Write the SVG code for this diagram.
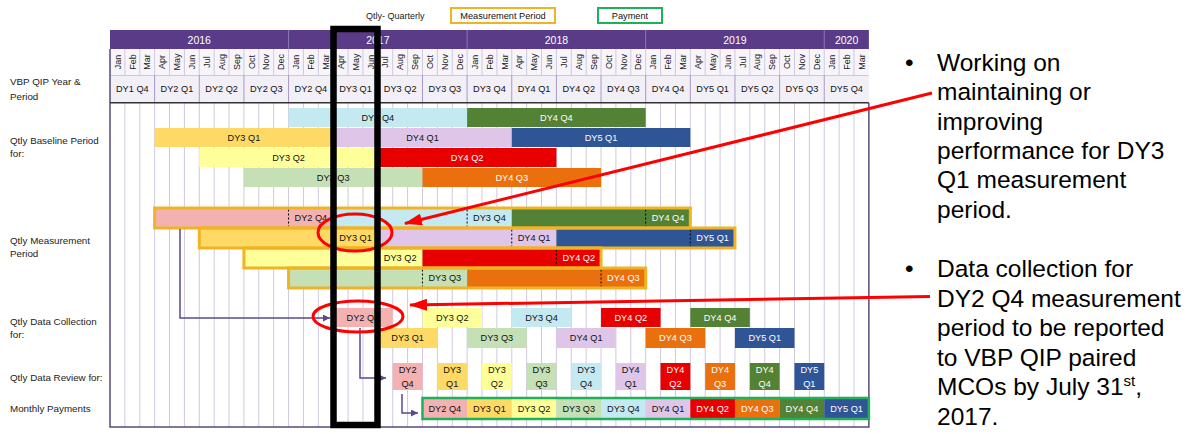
<svg xmlns="http://www.w3.org/2000/svg" width="1192" height="434" viewBox="0 0 1192 434">
<style>
text{font-family:"Liberation Sans",Arial,sans-serif}
.t{font-size:9.2px;fill:#111111;text-anchor:middle}
.w{fill:#ffffff}
.mo{font-size:9px;fill:#1a1a1a;text-anchor:middle}
.yr{font-size:10.5px;fill:#ffffff;text-anchor:middle}
.lbl{font-size:9.8px;fill:#222222}
.big{font-size:24.5px;fill:#000000}
.grid{stroke:#cfc8e0;stroke-width:1;fill:none}
.dash{stroke:#000;stroke-width:1;stroke-dasharray:2 2;fill:none}
.mp{fill:none;stroke:#efb324;stroke-width:3}
.pay{fill:none;stroke:#1fb15a;stroke-width:2.5}
.conn{fill:none;stroke:#5b4a8b;stroke-width:1.5}
.red{fill:none;stroke:#ff0000;stroke-width:3}
.c24{fill:#f4b1b2}.c31{fill:#ffd966}.c32{fill:#ffff99}.c33{fill:#c5e0b4}.c34{fill:#c5e9f1}
.c41{fill:#dfc6e9}.c42{fill:#e80000}.c43{fill:#e9700c}.c44{fill:#548235}.c51{fill:#2f5597}
</style>
<defs>
<marker id="pa" viewBox="0 0 7 7" refX="7" refY="3.5" markerWidth="7" markerHeight="7" markerUnits="userSpaceOnUse" orient="auto"><path d="M0,0L7,3.5L0,7z" fill="#5b4a8b"/></marker>
<marker id="ra" viewBox="0 0 18 12" refX="17" refY="6" markerWidth="18" markerHeight="12" markerUnits="userSpaceOnUse" orient="auto"><path d="M0,0L18,6L0,12z" fill="#ff0000"/></marker>
</defs>
<rect width="1192" height="434" fill="#ffffff"/>

<g id="legend">
<text x="366" y="19" class="lbl" style="font-size:9px">Qtly- Quarterly</text>
<rect x="451" y="8" width="104" height="15" fill="#fff" stroke="#efb324" stroke-width="2"/>
<text x="503" y="19" class="t">Measurement Period</text>
<rect x="598" y="8" width="64" height="15" fill="#fff" stroke="#1fb15a" stroke-width="2"/>
<text x="630" y="19" class="t">Payment</text>
</g>

<g id="header">
<rect x="110" y="30" width="758.88" height="19" fill="#5a3b88"/>
<path d="M288.56 30V49M467.12 30V49M645.68 30V49M824.24 30V49" stroke="#8c78b6" stroke-width="1"/>
<text x="199.28" y="43.5" class="yr">2016</text>
<text x="377.84" y="43.5" class="yr">2017</text>
<text x="556.4" y="43.5" class="yr">2018</text>
<text x="734.96" y="43.5" class="yr">2019</text>
<text x="846.56" y="43.5" class="yr">2020</text>
<rect x="110" y="49" width="758.88" height="26" fill="#f7f5fa"/>
<rect x="110" y="75" width="758.88" height="27" fill="#f2eff7"/>
<path class="grid" d="M124.88 49V75M139.76 49V75M154.64 49V75M169.52 49V75M184.4 49V75M199.28 49V75M214.16 49V75M229.04 49V75M243.92 49V75M258.8 49V75M273.68 49V75M288.56 49V75M303.44 49V75M318.32 49V75M333.2 49V75M348.08 49V75M362.96 49V75M377.84 49V75M392.72 49V75M407.6 49V75M422.48 49V75M437.36 49V75M452.24 49V75M467.12 49V75M482 49V75M496.88 49V75M511.76 49V75M526.64 49V75M541.52 49V75M556.4 49V75M571.28 49V75M586.16 49V75M601.04 49V75M615.92 49V75M630.8 49V75M645.68 49V75M660.56 49V75M675.44 49V75M690.32 49V75M705.2 49V75M720.08 49V75M734.96 49V75M749.84 49V75M764.72 49V75M779.6 49V75M794.48 49V75M809.36 49V75M824.24 49V75M839.12 49V75M854 49V75M110 75.5H868.88"/>
<path d="M154.64 75V102M199.28 75V102M243.92 75V102M288.56 75V102M333.2 75V102M377.84 75V102M422.48 75V102M467.12 75V102M511.76 75V102M556.4 75V102M601.04 75V102M645.68 75V102M690.32 75V102M734.96 75V102M779.6 75V102M824.24 75V102" stroke="#a898c8" stroke-width="1"/>
<g class="mo">
<text transform="translate(117.44,62) rotate(-90)" y="3.2">Jan</text>
<text transform="translate(132.32,62) rotate(-90)" y="3.2">Feb</text>
<text transform="translate(147.2,62) rotate(-90)" y="3.2">Mar</text>
<text transform="translate(162.08,62) rotate(-90)" y="3.2">Apr</text>
<text transform="translate(176.96,62) rotate(-90)" y="3.2">May</text>
<text transform="translate(191.84,62) rotate(-90)" y="3.2">Jun</text>
<text transform="translate(206.72,62) rotate(-90)" y="3.2">Jul</text>
<text transform="translate(221.6,62) rotate(-90)" y="3.2">Aug</text>
<text transform="translate(236.48,62) rotate(-90)" y="3.2">Sep</text>
<text transform="translate(251.36,62) rotate(-90)" y="3.2">Oct</text>
<text transform="translate(266.24,62) rotate(-90)" y="3.2">Nov</text>
<text transform="translate(281.12,62) rotate(-90)" y="3.2">Dec</text>
<text transform="translate(296,62) rotate(-90)" y="3.2">Jan</text>
<text transform="translate(310.88,62) rotate(-90)" y="3.2">Feb</text>
<text transform="translate(325.76,62) rotate(-90)" y="3.2">Mar</text>
<text transform="translate(340.64,62) rotate(-90)" y="3.2">Apr</text>
<text transform="translate(355.52,62) rotate(-90)" y="3.2">May</text>
<text transform="translate(370.4,62) rotate(-90)" y="3.2">Jun</text>
<text transform="translate(385.28,62) rotate(-90)" y="3.2">Jul</text>
<text transform="translate(400.16,62) rotate(-90)" y="3.2">Aug</text>
<text transform="translate(415.04,62) rotate(-90)" y="3.2">Sep</text>
<text transform="translate(429.92,62) rotate(-90)" y="3.2">Oct</text>
<text transform="translate(444.8,62) rotate(-90)" y="3.2">Nov</text>
<text transform="translate(459.68,62) rotate(-90)" y="3.2">Dec</text>
<text transform="translate(474.56,62) rotate(-90)" y="3.2">Jan</text>
<text transform="translate(489.44,62) rotate(-90)" y="3.2">Feb</text>
<text transform="translate(504.32,62) rotate(-90)" y="3.2">Mar</text>
<text transform="translate(519.2,62) rotate(-90)" y="3.2">Apr</text>
<text transform="translate(534.08,62) rotate(-90)" y="3.2">May</text>
<text transform="translate(548.96,62) rotate(-90)" y="3.2">Jun</text>
<text transform="translate(563.84,62) rotate(-90)" y="3.2">Jul</text>
<text transform="translate(578.72,62) rotate(-90)" y="3.2">Aug</text>
<text transform="translate(593.6,62) rotate(-90)" y="3.2">Sep</text>
<text transform="translate(608.48,62) rotate(-90)" y="3.2">Oct</text>
<text transform="translate(623.36,62) rotate(-90)" y="3.2">Nov</text>
<text transform="translate(638.24,62) rotate(-90)" y="3.2">Dec</text>
<text transform="translate(653.12,62) rotate(-90)" y="3.2">Jan</text>
<text transform="translate(668,62) rotate(-90)" y="3.2">Feb</text>
<text transform="translate(682.88,62) rotate(-90)" y="3.2">Mar</text>
<text transform="translate(697.76,62) rotate(-90)" y="3.2">Apr</text>
<text transform="translate(712.64,62) rotate(-90)" y="3.2">May</text>
<text transform="translate(727.52,62) rotate(-90)" y="3.2">Jun</text>
<text transform="translate(742.4,62) rotate(-90)" y="3.2">Jul</text>
<text transform="translate(757.28,62) rotate(-90)" y="3.2">Aug</text>
<text transform="translate(772.16,62) rotate(-90)" y="3.2">Sep</text>
<text transform="translate(787.04,62) rotate(-90)" y="3.2">Oct</text>
<text transform="translate(801.92,62) rotate(-90)" y="3.2">Nov</text>
<text transform="translate(816.8,62) rotate(-90)" y="3.2">Dec</text>
<text transform="translate(831.68,62) rotate(-90)" y="3.2">Jan</text>
<text transform="translate(846.56,62) rotate(-90)" y="3.2">Feb</text>
<text transform="translate(861.44,62) rotate(-90)" y="3.2">Mar</text>
</g>
<g class="t">
<text x="132.32" y="92">DY1 Q4</text>
<text x="176.96" y="92">DY2 Q1</text>
<text x="221.6" y="92">DY2 Q2</text>
<text x="266.24" y="92">DY2 Q3</text>
<text x="310.88" y="92">DY2 Q4</text>
<text x="355.52" y="92">DY3 Q1</text>
<text x="400.16" y="92">DY3 Q2</text>
<text x="444.8" y="92">DY3 Q3</text>
<text x="489.44" y="92">DY3 Q4</text>
<text x="534.08" y="92">DY4 Q1</text>
<text x="578.72" y="92">DY4 Q2</text>
<text x="623.36" y="92">DY4 Q3</text>
<text x="668" y="92">DY4 Q4</text>
<text x="712.64" y="92">DY5 Q1</text>
<text x="757.28" y="92">DY5 Q2</text>
<text x="801.92" y="92">DY5 Q3</text>
<text x="846.56" y="92">DY5 Q4</text>
</g>
</g>

<g id="labels" class="lbl">
<text x="10" y="85.3">VBP QIP Year &amp;</text>
<text x="10" y="100">Period</text>
<text x="10" y="144.3">Qtly Baseline Period</text>
<text x="10" y="156.8">for:</text>
<text x="10" y="244.3">Qtly Measurement</text>
<text x="10" y="257.3">Period</text>
<text x="10" y="325">Qtly Data Collection</text>
<text x="10" y="337.5">for:</text>
<text x="10" y="381.3">Qtly Data Review for:</text>
<text x="10" y="412.3">Monthly Payments</text>
</g>

<g id="chart-grid">
<path class="grid" d="M124.88 103V427M139.76 103V427M154.64 103V427M169.52 103V427M184.4 103V427M199.28 103V427M214.16 103V427M229.04 103V427M243.92 103V427M258.8 103V427M273.68 103V427M288.56 103V427M303.44 103V427M318.32 103V427M333.2 103V427M348.08 103V427M362.96 103V427M377.84 103V427M392.72 103V427M407.6 103V427M422.48 103V427M437.36 103V427M452.24 103V427M467.12 103V427M482 103V427M496.88 103V427M511.76 103V427M526.64 103V427M541.52 103V427M556.4 103V427M571.28 103V427M586.16 103V427M601.04 103V427M615.92 103V427M630.8 103V427M645.68 103V427M660.56 103V427M675.44 103V427M690.32 103V427M705.2 103V427M720.08 103V427M734.96 103V427M749.84 103V427M764.72 103V427M779.6 103V427M794.48 103V427M809.36 103V427M824.24 103V427M839.12 103V427M854 103V427"/>
<path d="M110 49V427H868.88V103" fill="none" stroke="#5a4a7e" stroke-width="1.5"/>
<path d="M110 102.8H868.88" stroke="#333" stroke-width="1.5"/>
</g>

<g id="baseline">
<rect x="288.56" y="108" width="178.56" height="19" class="c34"/>
<rect x="467.12" y="108" width="178.56" height="19" class="c44"/>
<rect x="154.64" y="128" width="178.56" height="19" class="c31"/>
<rect x="333.2" y="128" width="178.56" height="19" class="c41"/>
<rect x="511.76" y="128" width="178.56" height="19" class="c51"/>
<rect x="199.28" y="148" width="178.56" height="19" class="c32"/>
<rect x="377.84" y="148" width="178.56" height="19" class="c42"/>
<rect x="243.92" y="168" width="178.56" height="19" class="c33"/>
<rect x="422.48" y="168" width="178.56" height="19" class="c43"/>
<g class="t">
<text x="377.84" y="120.7">DY3 Q4</text>
<text x="556.4" y="120.7" class="w">DY4 Q4</text>
<text x="243.92" y="140.7">DY3 Q1</text>
<text x="422.48" y="140.7">DY4 Q1</text>
<text x="601.04" y="140.7" class="w">DY5 Q1</text>
<text x="288.56" y="160.7">DY3 Q2</text>
<text x="467.12" y="160.7" class="w">DY4 Q2</text>
<text x="333.2" y="180.7">DY3 Q3</text>
<text x="511.76" y="180.7" class="w">DY4 Q3</text>
</g>
</g>

<g id="measurement">
<rect x="154.64" y="208" width="178.56" height="20" class="c24"/>
<rect x="333.2" y="208" width="178.56" height="20" class="c34"/>
<rect x="511.76" y="208" width="178.56" height="20" class="c44"/>
<rect x="199.28" y="228" width="178.56" height="20" class="c31"/>
<rect x="377.84" y="228" width="178.56" height="20" class="c41"/>
<rect x="556.4" y="228" width="178.56" height="20" class="c51"/>
<rect x="243.92" y="248" width="178.56" height="20" class="c32"/>
<rect x="422.48" y="248" width="178.56" height="20" class="c42"/>
<rect x="288.56" y="268" width="178.56" height="20" class="c33"/>
<rect x="467.12" y="268" width="178.56" height="20" class="c43"/>
<path class="dash" d="M288.56 209.5V226.5M467.12 209.5V226.5M333.2 229.5V246.5M511.76 229.5V246.5M377.84 249.5V266.5M422.48 269.5V286.5"/>
<path class="dash" d="M645.68 209.5V226.5M690.32 229.5V246.5M556.4 249.5V266.5M601.04 269.5V286.5" stroke="#ffffff"/>
<rect x="154.64" y="208" width="535.68" height="20" class="mp"/>
<rect x="199.28" y="228" width="535.68" height="20" class="mp"/>
<rect x="243.92" y="248" width="357.12" height="20" class="mp"/>
<rect x="288.56" y="268" width="357.12" height="20" class="mp"/>
<g class="t">
<text x="310.88" y="221.2">DY2 Q4</text>
<text x="331.5" y="214" style="font-size:6px">1</text>
<text x="489.44" y="221.2">DY3 Q4</text>
<text x="668" y="221.2" class="w">DY4 Q4</text>
<text x="355.52" y="241.2">DY3 Q1</text>
<text x="534.08" y="241.2">DY4 Q1</text>
<text x="712.64" y="241.2" class="w">DY5 Q1</text>
<text x="400.16" y="261.2">DY3 Q2</text>
<text x="578.72" y="261.2" class="w">DY4 Q2</text>
<text x="444.8" y="281.2">DY3 Q3</text>
<text x="623.36" y="281.2" class="w">DY4 Q3</text>
</g>
</g>

<g id="collection">
<rect x="333.2" y="308" width="59.52" height="19" class="c24"/>
<rect x="422.48" y="308" width="59.52" height="19" class="c32"/>
<rect x="511.76" y="308" width="59.52" height="19" class="c34"/>
<rect x="601.04" y="308" width="59.52" height="19" class="c42"/>
<rect x="690.32" y="308" width="59.52" height="19" class="c44"/>
<rect x="377.84" y="328" width="59.52" height="20" class="c31"/>
<rect x="467.12" y="328" width="59.52" height="20" class="c33"/>
<rect x="556.4" y="328" width="59.52" height="20" class="c41"/>
<rect x="645.68" y="328" width="59.52" height="20" class="c43"/>
<rect x="734.96" y="328" width="59.52" height="20" class="c51"/>
<g class="t">
<text x="362.96" y="320.7">DY2 Q4</text>
<text x="452.24" y="320.7">DY3 Q2</text>
<text x="541.52" y="320.7">DY3 Q4</text>
<text x="630.8" y="320.7" class="w">DY4 Q2</text>
<text x="720.08" y="320.7" class="w">DY4 Q4</text>
<text x="407.6" y="341.2">DY3 Q1</text>
<text x="496.88" y="341.2">DY3 Q3</text>
<text x="586.16" y="341.2">DY4 Q1</text>
<text x="675.44" y="341.2" class="w">DY4 Q3</text>
<text x="764.72" y="341.2" class="w">DY5 Q1</text>
</g>
</g>

<g id="review">
<rect x="392.72" y="363" width="29.76" height="27" class="c24"/>
<rect x="437.36" y="363" width="29.76" height="27" class="c31"/>
<rect x="482" y="363" width="29.76" height="27" class="c32"/>
<rect x="526.64" y="363" width="29.76" height="27" class="c33"/>
<rect x="571.28" y="363" width="29.76" height="27" class="c34"/>
<rect x="615.92" y="363" width="29.76" height="27" class="c41"/>
<rect x="660.56" y="363" width="29.76" height="27" class="c42"/>
<rect x="705.2" y="363" width="29.76" height="27" class="c43"/>
<rect x="749.84" y="363" width="29.76" height="27" class="c44"/>
<rect x="794.48" y="363" width="29.76" height="27" class="c51"/>
<g class="t">
<text x="407.6" y="372.5">DY2</text><text x="407.6" y="386.5">Q4</text>
<text x="452.24" y="372.5">DY3</text><text x="452.24" y="386.5">Q1</text>
<text x="496.88" y="372.5">DY3</text><text x="496.88" y="386.5">Q2</text>
<text x="541.52" y="372.5">DY3</text><text x="541.52" y="386.5">Q3</text>
<text x="586.16" y="372.5">DY3</text><text x="586.16" y="386.5">Q4</text>
<text x="630.8" y="372.5">DY4</text><text x="630.8" y="386.5">Q1</text>
<text x="675.44" y="372.5" class="w">DY4</text><text x="675.44" y="386.5" class="w">Q2</text>
<text x="720.08" y="372.5" class="w">DY4</text><text x="720.08" y="386.5" class="w">Q3</text>
<text x="764.72" y="372.5" class="w">DY4</text><text x="764.72" y="386.5" class="w">Q4</text>
<text x="809.36" y="372.5" class="w">DY5</text><text x="809.36" y="386.5" class="w">Q1</text>
</g>
</g>

<g id="payments">
<rect x="422.48" y="398" width="44.64" height="21" class="c24"/>
<rect x="467.12" y="398" width="44.64" height="21" class="c31"/>
<rect x="511.76" y="398" width="44.64" height="21" class="c32"/>
<rect x="556.4" y="398" width="44.64" height="21" class="c33"/>
<rect x="601.04" y="398" width="44.64" height="21" class="c34"/>
<rect x="645.68" y="398" width="44.64" height="21" class="c41"/>
<rect x="690.32" y="398" width="44.64" height="21" class="c42"/>
<rect x="734.96" y="398" width="44.64" height="21" class="c43"/>
<rect x="779.6" y="398" width="44.64" height="21" class="c44"/>
<rect x="824.24" y="398" width="44.64" height="21" class="c51"/>
<rect x="422.48" y="398" width="446.4" height="21" class="pay"/>
<g class="t">
<text x="444.8" y="411.7">DY2 Q4</text>
<text x="489.44" y="411.7">DY3 Q1</text>
<text x="534.08" y="411.7">DY3 Q2</text>
<text x="578.72" y="411.7">DY3 Q3</text>
<text x="623.36" y="411.7">DY3 Q4</text>
<text x="668" y="411.7">DY4 Q1</text>
<text x="712.64" y="411.7" class="w">DY4 Q2</text>
<text x="757.28" y="411.7" class="w">DY4 Q3</text>
<text x="801.92" y="411.7" class="w">DY4 Q4</text>
<text x="846.56" y="411.7" class="w">DY5 Q1</text>
</g>
</g>

<g id="connectors">
<path class="conn" d="M180 229V318H330" marker-end="url(#pa)"/>
<path class="conn" d="M360 328V378H386" marker-end="url(#pa)"/>
<path class="conn" d="M402 394V413H418" marker-end="url(#pa)"/>
</g>

<g id="highlights">
<ellipse cx="355" cy="232.5" rx="37" ry="18.5" class="red"/>
<ellipse cx="358" cy="316.5" rx="45" ry="15.5" class="red"/>
<rect x="333.5" y="29" width="44" height="396" fill="none" stroke="#000" stroke-width="6.5"/>
</g>

<g id="callouts">
<path class="red" d="M932 93L405 223.5" marker-end="url(#ra)"/>
<path class="red" d="M930 296.5L410 305" marker-end="url(#ra)"/>
</g>

<g id="note1" class="big">
<text x="905" y="71">•</text>
<text x="937" y="71">Working on</text>
<text x="937" y="100.3">maintaining or</text>
<text x="937" y="129.6">improving</text>
<text x="937" y="158.9">performance for DY3</text>
<text x="937" y="188.2">Q1 measurement</text>
<text x="937" y="217.5">period.</text>
</g>
<g id="note2" class="big">
<text x="905" y="277">•</text>
<text x="937" y="277">Data collection for</text>
<text x="937" y="306.5">DY2 Q4 measurement</text>
<text x="937" y="336">period to be reported</text>
<text x="937" y="365.5">to VBP QIP paired</text>
<text x="937" y="395">MCOs by July 31<tspan font-size="15" dy="-9">st</tspan><tspan dy="9">,</tspan></text>
<text x="937" y="424.5">2017.</text>
</g>
</svg>
